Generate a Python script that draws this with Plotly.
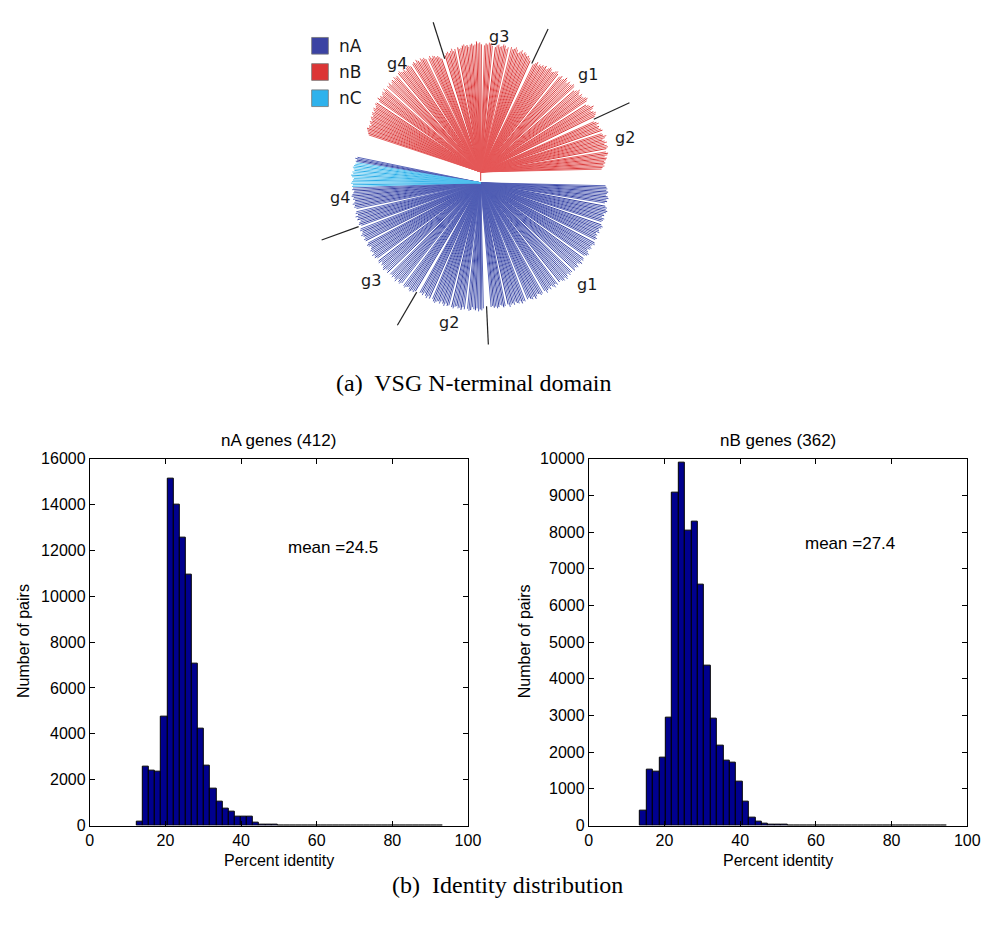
import math
import plotly.graph_objects as go

W, H = 994, 935

# ---------------- pairwise identity histograms ----------------
nA_title = "nA genes (412)"
nB_title = "nB genes (362)"
nA_mean_label = "mean =24.5"
nB_mean_label = "mean =27.4"
x_label = "Percent identity"
y_label = "Number of pairs"

nA_bin_start = 12.4
nA_bin_width = 1.62
nA_counts = [190, 2580, 2400, 2340, 4770, 15130, 13990, 12550, 10950, 7080,
             4210, 2610, 1630, 1040, 740, 620, 400, 400, 400, 145,
             60, 30, 22, 16, 12, 9, 7, 6, 5, 4,
             4, 3, 3, 3, 2, 2, 2, 2, 2, 1,
             1, 1, 1, 1, 1, 1, 1, 1, 1, 1]

nB_bin_start = 13.6
nB_bin_width = 1.69
nB_counts = [400, 1520, 1480, 1860, 2930, 9070, 9890, 8040, 8290, 6560,
             4360, 2910, 2170, 1770, 1720, 1200, 640, 210, 110, 55,
             28, 18, 12, 9, 7, 5, 4, 4, 3, 3,
             2, 2, 2, 2, 2, 1, 1, 1, 1, 1,
             1, 1, 1, 1, 1, 1, 1, 1]

x_ticks = [0, 20, 40, 60, 80, 100]
nA_y_ticks = [0, 2000, 4000, 6000, 8000, 10000, 12000, 14000, 16000]
nB_y_ticks = [0, 1000, 2000, 3000, 4000, 5000, 6000, 7000, 8000, 9000, 10000]

# ---------------- radial tree of N-terminal domains ----------------
# tip distance of each leaf from the root; 0 marks a gap between sub-clades
nB_g2_tips = [123, 124, 126, 125, 127, 126, 128, 129, 127, 130, 131, 129, 0, 130, 132, 131, 129,
              132, 130, 128, 131, 133, 130, 129, 0, 131, 130, 128, 129, 127, 130, 128, 126, 0]
nB_g1_tips = [0, 129, 131, 132, 130, 128, 131, 133, 130, 129, 127, 0, 130, 132, 131, 129, 128, 130,
              127, 129, 131, 128, 126, 0, 129, 130, 128, 127, 129, 126, 128, 130, 127, 125, 128,
              126, 0, 127, 129, 128, 126, 125, 127, 128, 126, 124, 127, 125, 126, 124, 125, 123,
              126, 124, 122, 0]
nB_g3_tips = [0, 124, 126, 128, 127, 129, 130, 128, 131, 129, 127, 130, 132, 130, 129, 131, 0, 130,
              128, 131, 132, 130, 129, 131, 130, 128, 0, 129, 131, 132, 130, 131, 129, 0, 130, 132,
              131, 133, 130, 129, 131, 130, 128, 130, 129, 131, 130, 128, 127, 129, 0, 128, 126,
              129, 127, 125, 127, 126, 124, 0]
nB_g4_tips = [0, 122, 124, 126, 125, 127, 128, 126, 129, 127, 0, 128, 130, 129, 131, 128, 130, 132,
              129, 131, 130, 0, 129, 131, 132, 130, 128, 131, 129, 130, 132, 131, 0, 130, 129, 131,
              128, 130, 129, 127, 130, 128, 129, 0, 128, 130, 127, 129, 128, 126, 128, 127, 129,
              126, 0, 127, 128, 126, 125, 127, 126, 124, 126, 125, 123, 125, 124, 122, 124, 123,
              121, 123, 122, 124, 123, 122, 121, 120]
nA_g1_tips = [127, 128, 129, 128, 130, 129, 128, 130, 131, 129, 130, 128, 0, 129, 131, 130, 132, 131,
              129, 130, 128, 131, 130, 129, 0, 130, 132, 131, 129, 130, 131, 128, 130, 129, 131,
              130, 0, 131, 132, 130, 129, 131, 130, 128, 130, 132, 131, 129, 0, 130, 131, 129, 132,
              130, 128, 131, 130, 129, 131, 0, 130, 129, 131, 128, 130, 132, 129, 131, 130, 128,
              129, 0, 130, 128, 131, 129, 127, 130, 128, 129, 131, 128, 0, 129, 130, 128, 127, 129,
              131, 128, 130, 129, 127, 128, 0, 129, 128, 130, 127, 129, 128, 126, 129, 127, 128,
              130, 127, 0, 128, 129, 127, 126, 128, 129, 127, 128, 126, 127, 0, 0]
nA_g2_tips = [0, 0, 128, 130, 129, 131, 128, 130, 129, 127, 130, 131, 129, 0, 130, 128, 131, 129, 130,
              128, 129, 131, 130, 0, 129, 130, 128, 131, 129, 127, 130, 128, 129, 131, 130, 128, 0,
              129, 127, 130, 128, 126, 129, 127, 128, 0]
nA_g3_tips = [0, 129, 131, 130, 132, 131, 129, 130, 132, 131, 0, 130, 132, 131, 129, 133, 131, 130,
              132, 130, 131, 0, 132, 130, 131, 133, 132, 130, 131, 129, 132, 131, 0, 130, 132, 131,
              133, 130, 131, 132, 130, 129, 131, 132, 130, 0, 131, 132, 130, 131, 133, 131, 130,
              132, 131, 0]
nA_g4_tips = [129, 131, 130, 128, 131, 130, 132, 129, 131, 130, 0, 129, 131, 130, 132, 130, 129, 131,
              130, 132, 131, 130, 129, 131, 130]
nC_tips = [131, 130, 132, 131, 130, 129, 131, 132, 130, 131, 129, 130, 131, 130, 129, 128]
nA_g4_upper_tips = [129, 128, 130, 128]

legend_names = ["nA", "nB", "nC"]
caption_a = "(a)  VSG N-terminal domain"
caption_b = "(b)  Identity distribution"

# ---------------- styling ----------------
COL = {"nA": "#3b43a3", "nB": "#dc3535", "nC": "#2eb2ec"}
SHADES = {"nA": ("#2c389c", "#5360b6"), "nB": ("#d62f2f", "#e65a5a"), "nC": ("#1ea8e6", "#52c2f0")}
BAR_COL = "#00008e"
SANS = "Liberation Sans, Arial, sans-serif"
TREE_FONT = "DejaVu Sans, Verdana, sans-serif"
SERIF = "Liberation Serif, Times New Roman, serif"


def pxx(x):
    return x / W


def pxy(y):
    return 1 - y / H


fig = go.Figure()


def add_hist(counts, start, width, xa, ya):
    centers = [start + (i + 0.5) * width for i in range(len(counts))]
    fig.add_trace(go.Bar(
        x=centers, y=counts, width=[width] * len(counts),
        marker=dict(color=BAR_COL, line=dict(color="#000000", width=1)),
        xaxis=xa, yaxis=ya, showlegend=False, hoverinfo="x+y"))


add_hist(nA_counts, nA_bin_start, nA_bin_width, "x", "y")
add_hist(nB_counts, nB_bin_start, nB_bin_width, "x2", "y2")

# ---- tree ----
RED_ROOT = (0.0, 3.0)
BLUE_ROOT = (0.0, -8.0)
clades = [
    ("nB", RED_ROOT, 1.0, 25.0, nB_g2_tips),
    ("nB", RED_ROOT, 25.0, 65.0, nB_g1_tips),
    ("nB", RED_ROOT, 65.0, 108.0, nB_g3_tips),
    ("nB", RED_ROOT, 108.0, 162.0, nB_g4_tips),
    ("nA", BLUE_ROOT, -1.0, -87.0, nA_g1_tips),
    ("nA", BLUE_ROOT, -87.0, -120.0, nA_g2_tips),
    ("nA", BLUE_ROOT, -120.0, -160.0, nA_g3_tips),
    ("nA", BLUE_ROOT, -160.0, -178.0, nA_g4_tips),
    ("nC", BLUE_ROOT, -178.0, -189.5, nC_tips),
    ("nA", BLUE_ROOT, -189.5, -192.0, nA_g4_upper_tips),
]

# two shades per family (every third leaf drawn darker)
seg = {(f, s): ([], []) for f in SHADES for s in (0, 1)}
for fam, root, a0, a1, tips in clades:
    n = len(tips)
    for i, r in enumerate(tips):
        if r <= 0:
            continue
        xs, ys = seg[(fam, 0 if i % 3 == 1 else 1)]
        a = math.radians(a0 + (a1 - a0) * (i + 0.5) / n)
        xs += [root[0], root[0] + r * math.cos(a), None]
        ys += [root[1], root[1] + r * math.sin(a), None]

# short stem joining both halves at the root
seg[("nB", 0)][0].extend([0.0, 0.0, None])
seg[("nB", 0)][1].extend([3.0, -6.0, None])

for (fam, s), (xs, ys) in seg.items():
    if not xs:
        continue
    fig.add_trace(go.Scatter(
        x=xs, y=ys, mode="lines", line=dict(color=SHADES[fam][s], width=1),
        opacity=0.95, xaxis="x3", yaxis="y3", showlegend=False, hoverinfo="skip"))

# group boundary ticks: (root, angle, inner radius, outer radius)
dividers = [
    (RED_ROOT, 107.6, 121, 160),
    (RED_ROOT, 64.8, 122, 161),
    (RED_ROOT, 25.0, 127, 167),
    (BLUE_ROOT, -160.2, 132, 172),
    (BLUE_ROOT, -120.3, 129, 168),
    (BLUE_ROOT, -87.3, 126, 165),
]
dx, dy = [], []
for root, ang, r0, r1 in dividers:
    a = math.radians(ang)
    dx += [root[0] + r0 * math.cos(a), root[0] + r1 * math.cos(a), None]
    dy += [root[1] + r0 * math.sin(a), root[1] + r1 * math.sin(a), None]
fig.add_trace(go.Scatter(x=dx, y=dy, mode="lines", line=dict(color="#222222", width=1.2),
                         xaxis="x3", yaxis="y3", showlegend=False, hoverinfo="skip"))

# group labels (tree coordinates)
group_label_pos = [
    ("g3", 19, 141), ("g4", -85, 113), ("g1", 109, 102), ("g2", 147, 38),
    ("g4", -143, -23), ("g3", -112, -108), ("g2", -32, -150), ("g1", 108, -112),
]
annotations = []
for txt, x, y in group_label_pos:
    annotations.append(dict(text=txt, x=x, y=y, xref="x3", yref="y3", showarrow=False,
                            font=dict(family=TREE_FONT, size=16, color="#1a1a1a")))

# legend boxes
shapes = []
for k, name in enumerate(legend_names):
    y_top = 30 + k * 26.7
    shapes.append(dict(type="rect", xref="paper", yref="paper",
                       x0=pxx(313), x1=pxx(330), y0=pxy(y_top + 17), y1=pxy(y_top),
                       fillcolor=COL[name], line=dict(color="#777777", width=0.8)))
    annotations.append(dict(text=name, x=pxx(339), y=pxy(y_top + 8.5), xref="paper", yref="paper",
                            xanchor="left", yanchor="middle", showarrow=False,
                            font=dict(family=TREE_FONT, size=17, color="#1a1a1a")))


def text(t, x, y, size=16, family=SANS, angle=0, xanchor="center"):
    annotations.append(dict(text=t, x=pxx(x), y=pxy(y), xref="paper", yref="paper",
                            xanchor=xanchor, yanchor="middle", showarrow=False, textangle=angle,
                            font=dict(family=family, size=size, color="#000000")))


text(caption_a, 478, 382, size=24, family=SERIF)
text(caption_b, 512, 893, size=24, family=SERIF)
text(nA_title, 279, 441, size=17)
text(nB_title, 787, 441, size=17)
text(x_label, 280, 868)
text(x_label, 787, 868)
text(y_label, 20, 645, angle=-90)
text(y_label, 529, 645, angle=-90)
text(nA_mean_label, 287, 549, size=17, xanchor="left")
text(nB_mean_label, 813, 545, size=17, xanchor="left")

axis_common = dict(showline=True, mirror="ticks", linecolor="#000000", linewidth=1,
                   ticks="inside", ticklen=5, tickcolor="#000000", tickwidth=1,
                   showgrid=False, zeroline=False, fixedrange=True,
                   tickfont=dict(family=SANS, size=16, color="#000000"))

y_dom = [pxy(832.7), pxy(459)]
fig.update_layout(
    width=W, height=H, margin=dict(l=0, r=0, t=0, b=0),
    paper_bgcolor="white", plot_bgcolor="white", bargap=0, showlegend=False,
    xaxis=dict(domain=[pxx(87.3), pxx(472)], range=[0, 100], tickvals=x_ticks, anchor="y", **axis_common),
    yaxis=dict(domain=y_dom, range=[0, 16000], tickvals=nA_y_ticks, tickformat="d", anchor="x", **axis_common),
    xaxis2=dict(domain=[pxx(595), pxx(980)], range=[0, 100], tickvals=x_ticks, anchor="y2", **axis_common),
    yaxis2=dict(domain=y_dom, range=[0, 10000], tickvals=nB_y_ticks, tickformat="d", anchor="x2", **axis_common),
    xaxis3=dict(domain=[pxx(290), pxx(700)], range=[-195, 215], visible=False, anchor="y3", fixedrange=True),
    yaxis3=dict(domain=[pxy(360), 1], range=[-190, 170], visible=False, anchor="x3", fixedrange=True),
    annotations=annotations, shapes=shapes,
)

# the page body gets no default margin so the figure fills the window exactly
fig.write_html("out.html", post_script="document.body.style.margin='0';")
